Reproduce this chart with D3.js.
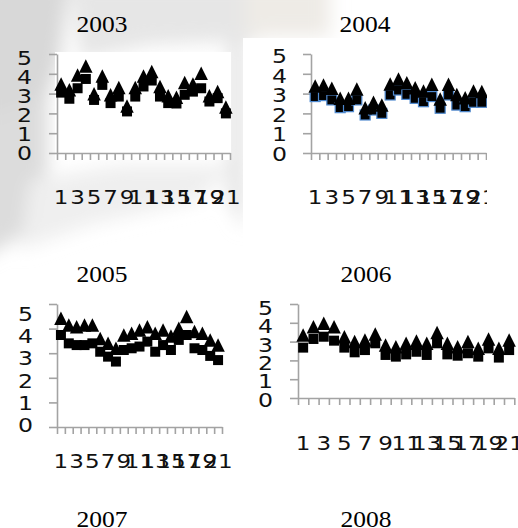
<!DOCTYPE html>
<html>
<head>
<meta charset="utf-8">
<script src="https://cdn.jsdelivr.net/npm/d3@7"></script>
<style>
  body { margin: 0; background: #fff; }
  svg { display: block; }
</style>
</head>
<body>
<div id="chart"></div>
<script>
// data
var categories = [1, 2, 3, 4, 5, 6, 7, 8, 9, 10, 11, 12, 13, 14, 15, 16, 17, 18, 19, 20, 21];
var xLabels = [1, 3, 5, 7, 9, 11, 13, 15, 17, 19, 21];
var yTicks = [0, 1, 2, 3, 4, 5];
var years = ["2003", "2004", "2005", "2006", "2007", "2008"];

var tri2003 = [3.49, 3.19, 3.94, 4.40, 2.99, 3.89, 2.94, 3.31, 2.38, 3.31, 3.89, 4.11, 3.36, 2.89, 2.82, 3.56, 3.49, 4.03, 2.89, 3.10, 2.32];
var sq2003  = [3.05, 2.74, 3.27, 3.74, 2.68, 3.44, 2.52, 2.85, 2.10, 2.85, 3.36, 3.66, 2.85, 2.52, 2.50, 2.94, 3.10, 3.27, 2.60, 2.77, 2.00];

var tri2004 = [3.38, 3.43, 3.27, 2.76, 2.76, 3.23, 2.29, 2.56, 2.42, 3.48, 3.74, 3.55, 3.30, 3.13, 3.47, 2.73, 3.47, 2.96, 2.79, 3.13, 3.10];
var sq2004  = [2.85, 2.90, 2.68, 2.29, 2.34, 2.68, 1.92, 2.17, 2.00, 2.93, 3.18, 2.96, 2.76, 2.59, 2.85, 2.26, 2.93, 2.42, 2.34, 2.56, 2.56];

var tri2005 = [4.42, 4.15, 4.08, 4.15, 4.15, 3.60, 3.40, 3.20, 3.74, 3.81, 3.94, 4.08, 3.81, 3.94, 3.70, 4.01, 4.49, 3.88, 3.81, 3.54, 3.33];
var sq2005  = [3.74, 3.40, 3.33, 3.33, 3.40, 3.06, 2.86, 2.66, 3.13, 3.20, 3.27, 3.47, 3.06, 3.33, 3.13, 3.54, 3.74, 3.20, 3.13, 2.89, 2.72];

var tri2006 = [3.35, 3.79, 3.97, 3.79, 3.26, 3.00, 3.09, 3.40, 2.82, 2.73, 2.91, 3.03, 2.91, 3.49, 2.91, 2.73, 3.00, 2.64, 3.14, 2.64, 3.09];
var sq2006  = [2.68, 3.14, 3.26, 3.05, 2.68, 2.43, 2.55, 2.91, 2.29, 2.20, 2.32, 2.46, 2.29, 2.91, 2.32, 2.25, 2.38, 2.20, 2.64, 2.15, 2.55];

var W = 518, H = 528;

var svg = d3.select("#chart").append("svg")
    .attr("width", W)
    .attr("height", H);

var defs = svg.append("defs");
defs.append("filter").attr("id", "soft")
    .attr("x", "-30%").attr("y", "-30%").attr("width", "160%").attr("height", "160%")
  .append("feGaussianBlur").attr("stdDeviation", 9);

// faded watermark behind the upper left
var wm = svg.append("g").attr("filter", "url(#soft)");
wm.append("path").attr("d", "M-20,-20 L70,-20 L60,60 L40,120 L-20,140 Z").attr("fill", "#d8d8d8");
wm.append("path").attr("d", "M70,-20 L260,-20 L260,40 L150,45 L80,60 Z").attr("fill", "#e6e6e6");
wm.append("path").attr("d", "M-20,120 L48,95 L48,170 L30,230 L-20,260 Z").attr("fill", "#dcdcdc");
wm.append("path").attr("d", "M30,180 L120,165 L235,165 L200,200 L90,225 L20,250 Z").attr("fill", "#efefef");
wm.append("path").attr("d", "M228,40 L245,40 L245,230 L228,200 Z").attr("fill", "#e4e4e4");
wm.append("path").attr("d", "M245,-20 L330,-20 L330,36 L245,36 Z").attr("fill", "#eeebe6");

// panel layout (pixels)
var panels = [
  {tri: tri2003, sq: sq2003, title: years[0], left: 57, right: 230, top: 54, bottom: 153,
   lab5: 57.5, lab0: 153, labRight: 32, xLabY: 204, titleX: 102, titleY: 32, clipRight: 518,
   bg: [55, 52, 176, 108], sqStroke: null},
  {tri: tri2004, sq: sq2004, title: years[1], left: 311, right: 486, top: 54, bottom: 153,
   lab5: 56, lab0: 153.5, labRight: 287, xLabY: 204, titleX: 365, titleY: 32, clipRight: 487,
   bg: [243, 38, 275, 215], sqStroke: "#4f8ad0"},
  {tri: tri2005, sq: sq2005, title: years[2], left: 57, right: 222, top: 304, bottom: 427,
   lab5: 313.7, lab0: 425, labRight: 33, xLabY: 468, titleX: 102, titleY: 282, clipRight: 518,
   bg: null, sqStroke: null},
  {tri: tri2006, sq: sq2006, title: years[3], left: 298, right: 514.3, top: 304, bottom: 398,
   lab5: 307.5, lab0: 399.5, labRight: 273, xLabY: 450, titleX: 366, titleY: 282, clipRight: 518,
   bg: null, sqStroke: null}
];

var stretch = 1.18;   // tick labels are wider than DejaVu

function triangle(cx, cy, s) {
  return "M" + cx + "," + (cy - s / 2) +
         "L" + (cx + s / 2) + "," + (cy + s / 2) +
         "L" + (cx - s / 2) + "," + (cy + s / 2) + "Z";
}

function title(t, cx, cy) {
  svg.append("text")
      .attr("x", cx).attr("y", cy)
      .attr("text-anchor", "middle")
      .attr("font-family", "Liberation Serif, Times New Roman, serif")
      .attr("font-size", 23)
      .attr("textLength", 51)
      .attr("lengthAdjust", "spacingAndGlyphs")
      .text(t);
}

panels.forEach(function(p, k) {

  if (p.bg) {
    svg.append("rect")
        .attr("x", p.bg[0]).attr("y", p.bg[1])
        .attr("width", p.bg[2]).attr("height", p.bg[3])
        .attr("fill", "#fff");
  }

  defs.append("clipPath").attr("id", "clip" + k)
    .append("rect").attr("x", 0).attr("y", 0).attr("width", p.clipRight).attr("height", H);

  var g = svg.append("g").attr("clip-path", "url(#clip" + k + ")");

  title(p.title, p.titleX, p.titleY);

  // scales
  var x = d3.scaleBand().domain(categories).range([p.left, p.right]);
  var xb = d3.scaleLinear().domain([0, categories.length]).range([p.left, p.right]);
  var y = d3.scaleLinear().domain([0, 5]).range([p.bottom, p.top]);
  var yLab = d3.scaleLinear().domain([0, 5]).range([p.lab0, p.lab5]);

  // y axis
  var ya = g.append("g")
      .attr("transform", "translate(" + p.left + ",0)")
      .call(d3.axisLeft(y).tickValues(yTicks).tickSize(8).tickSizeOuter(0).tickFormat(""));
  // x axis, ticks at category boundaries
  var xa = g.append("g")
      .attr("transform", "translate(0," + p.bottom + ")")
      .call(d3.axisBottom(xb).tickValues(d3.range(0, categories.length + 1)).tickSize(7).tickSizeOuter(0).tickFormat(""));

  [ya, xa].forEach(function(a) {
    a.selectAll("path, line").attr("stroke", "#a3a3a3").attr("stroke-width", 1.6);
  });

  // y labels
  g.selectAll(".ylab").data(yTicks).enter().append("text")
      .attr("transform", function(d) { return "translate(" + p.labRight + "," + yLab(d) + ") scale(" + stretch + ",1)"; })
      .attr("dy", "0.36em")
      .attr("text-anchor", "end")
      .attr("font-family", "DejaVu Sans, sans-serif")
      .attr("font-size", 20)
      .attr("fill", "#111")
      .text(function(d) { return d; });

  // x labels
  g.selectAll(".xlab").data(xLabels).enter().append("text")
      .attr("transform", function(d) { return "translate(" + (x(d) + x.bandwidth() / 2) + "," + p.xLabY + ") scale(" + stretch + ",1)"; })
      .attr("text-anchor", "middle")
      .attr("font-family", "DejaVu Sans, sans-serif")
      .attr("font-size", 19.5)
      .attr("fill", "#111")
      .text(function(d) { return d; });

  // squares
  g.selectAll(".sq").data(p.sq).enter().append("rect")
      .attr("x", function(d, i) { return x(categories[i]) + x.bandwidth() / 2 - 5; })
      .attr("y", function(d) { return y(d) - 5; })
      .attr("width", 10).attr("height", 10)
      .attr("fill", "#000")
      .attr("stroke", p.sqStroke || "none")
      .attr("stroke-width", 1.2);

  // triangles
  g.selectAll(".tri").data(p.tri).enter().append("path")
      .attr("d", function(d, i) { return triangle(x(categories[i]) + x.bandwidth() / 2, y(d), 13.5); })
      .attr("fill", "#000");
});

// titles of the next row, cut off at the bottom
title(years[4], 102, 527);
title(years[5], 366, 527);
</script>
</body>
</html>
